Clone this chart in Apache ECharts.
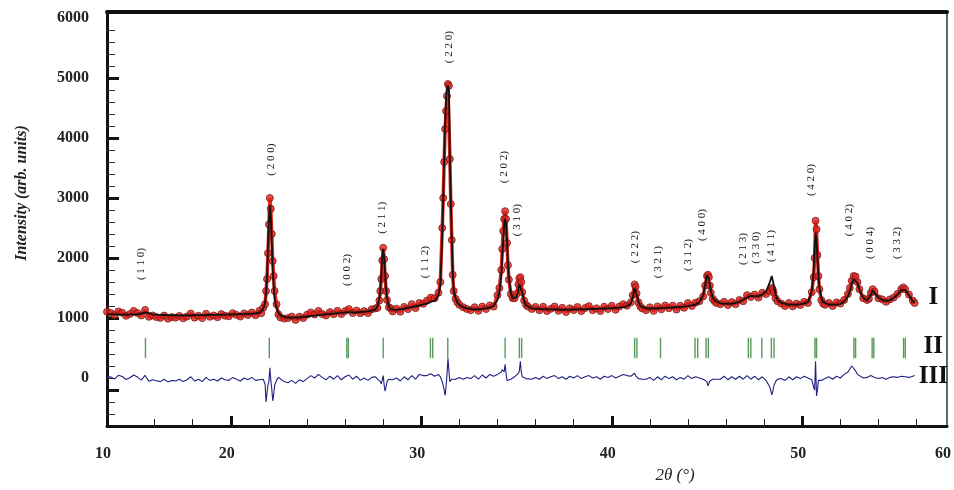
<!DOCTYPE html>
<html>
<head>
<meta charset="utf-8">
<title>XRD refinement</title>
<script src="https://cdn.jsdelivr.net/npm/echarts@6/dist/echarts.min.js"></script>
<style>
    html, body { margin: 0; padding: 0; background: #fff; }
    #chartXrd { width: 954px; height: 490px; }
</style>
</head>
<body>
<div id="chartXrd"></div>
<script>
    // 2theta grid, coarse on background, finer on the peaks
    var twoTheta = [
        13.5,13.7,13.9,14.1,14.3,14.5,14.7,14.9,15.1,15.3, 15.5,15.7,15.9,16.1,16.3,16.5,16.7,16.9,17.1,17.3,
        17.5,17.7,17.9,18.1,18.3,18.5,18.7,18.9,19.1,19.3, 19.5,19.7,19.9,20.1,20.3,20.5,20.7,20.9,21.1,21.3,
        21.5,21.6,21.7,21.8,21.85,21.9,21.95,22.0,22.05,22.1, 22.15,22.2,22.25,22.3,22.4,22.5,22.6,
        22.8,23.0,23.2,23.4,23.6,23.8,24.0,24.2,24.4,24.6, 24.8,25.0,25.2,25.4,25.6,25.8,26.0,26.2,26.4,26.6, 26.8,27.0,27.2,27.4,
        27.6,27.7,27.8,27.85,27.9,27.95,28.0,28.05,28.1,28.15, 28.2,28.3,28.4,28.5,
        28.7,28.9,29.1,29.3,29.5,29.7,29.9,30.1,
        30.3,30.5,30.7,30.9,31.0,31.1,31.15,31.2,31.25,31.3, 31.35,31.4,31.45,31.5,31.55,31.6,31.65,31.7,31.8,31.9, 32.0,32.2,32.4,
        32.6,32.8,33.0,33.2,33.4,33.6,33.8,
        34.0,34.1,34.2,34.25,34.3,34.35,34.4,34.45,34.5,34.55, 34.6,34.7,34.8,34.9,35.0,35.1,35.15,35.2,35.25,35.3, 35.4,35.5,35.6,35.8,
        36.0,36.2,36.4,36.6,36.8,37.0,37.2,37.4,37.6,37.8, 38.0,38.2,38.4,38.6,38.8,39.0,39.2,39.4,39.6,39.8, 40.0,40.2,40.4,40.6,40.8,
        41.0,41.1,41.2,41.25,41.3,41.4,41.5,41.6,
        41.8,42.0,42.2,42.4,42.6,42.8,43.0,43.2,43.4,43.6, 43.8,44.0,44.2,44.4,44.6,
        44.8,44.9,45.0,45.05,45.1,45.15,45.2,45.3,45.4,45.5,
        45.7,45.9,46.1,46.3,46.5,46.7,46.9,47.1,47.3,47.5, 47.7,47.9,48.1,
        48.3,48.4,48.45,48.5,48.6,48.7,
        48.9,49.1,49.3,49.5,49.7,49.9,50.1,50.3,
        50.5,50.6,50.65,50.7,50.75,50.8,50.85,50.9,51.0,51.1,51.2,
        51.4,51.6,51.8,52.0,52.2,52.4,52.5,52.6,52.7,52.8, 52.9,53.0,53.2,53.4,53.5,53.6,53.7,53.8,54.0,54.2,
        54.4,54.6,54.8,55.0,55.2,55.3,55.4,55.6,55.8,55.9
    ];
    // I : observed points
    var observed = [
        1105,1082,1050,1108,1087,1036,1066,1118,1082,1042, 1135,1020,1042,1015,1002,1040,988,1016,1005,1035,
        994,1024,1075,1006,1037,998,1070,1021,1042,1014, 1065,1037,1028,1080,1052,1024,1076,1049,1092,1046,
        1120,1080,1170,1230,1450,1650,2080,2560,3000,2820, 2400,1950,1700,1450,1230,1060,1010,
        990,998,1025,968,1022,998,1055,1092,1060,1118, 1065,1042,1098,1064,1120,1066,1115,1148,1082,1125, 1080,1115,1082,1145,
        1160,1170,1290,1450,1650,1960,2170,1980,1700,1450, 1300,1180,1160,1110,
        1155,1105,1185,1148,1230,1165,1250,1238,
        1290,1340,1330,1420,1600,2500,3000,3600,4150,4450, 4700,4900,4870,3650,2900,2300,1720,1450,1320,1260, 1220,1180,1150,
        1130,1180,1120,1190,1150,1210,1190,
        1380,1500,1800,2150,2450,2650,2780,2650,2250,1880, 1640,1400,1330,1330,1400,1560,1660,1680,1600,1430, 1290,1220,1190,1150,
        1185,1130,1188,1115,1153,1192,1120,1170,1100,1161, 1132,1183,1115,1166,1198,1130,1162,1115,1188,1150, 1203,1137,1192,1230,1205,
        1260,1380,1560,1520,1410,1260,1190,1160,
        1130,1178,1120,1192,1145,1208,1162,1205,1140,1205, 1170,1248,1200,1255,1280,
        1360,1540,1700,1720,1680,1540,1420,1320,1280,1250,
        1230,1270,1215,1265,1230,1300,1280,1380,1350,1390, 1340,1420,1400,
        1450,1500,1480,1420,1330,1280,
        1240,1200,1250,1195,1240,1215,1270,1250,
        1430,1680,2000,2620,2480,2050,1700,1480,1300,1240,1220,
        1250,1200,1260,1240,1300,1400,1500,1620,1700,1690, 1600,1480,1330,1300,1320,1420,1480,1440,1330,1310,
        1270,1310,1340,1400,1480,1510,1480,1390,1290,1250
    ];
    // I : calculated profile
    var calculated = [
        1065,1062,1060,1058,1057,1056,1056,1058,1062,1072, 1095,1080,1062,1055,1052,1050,1048,1046,1045,1045,
        1044,1044,1045,1046,1047,1048,1050,1051,1052,1054, 1055,1057,1058,1060,1062,1064,1066,1069,1072,1076,
        1085,1110,1150,1260,1420,1700,2150,2620,2880,2700, 2250,1820,1510,1310,1160,1090,1045,
        1020,1008,1005,1008,1012,1018,1025,1032,1040,1048, 1055,1062,1068,1074,1080,1086,1095,1098,1092,1095, 1100,1105,1112,1125,
        1140,1190,1330,1480,1720,2000,2150,2020,1760,1510, 1340,1190,1145,1130,
        1135,1145,1155,1168,1180,1195,1210,1228,
        1240,1270,1290,1370,1540,2380,2950,3600,4250,4650, 4830,4870,4800,3700,2950,2330,1760,1470,1330,1260, 1215,1180,1160,
        1150,1145,1145,1150,1160,1175,1200,
        1300,1430,1720,2000,2300,2540,2650,2580,2280,1930, 1680,1420,1320,1310,1350,1470,1560,1590,1530,1420, 1280,1210,1180,1160,
        1155,1150,1148,1145,1143,1142,1140,1140,1140,1141, 1142,1143,1145,1146,1148,1150,1152,1155,1158,1160, 1163,1167,1172,1180,1195,
        1240,1340,1500,1480,1400,1270,1200,1175,
        1160,1158,1160,1162,1165,1168,1172,1175,1180,1185, 1190,1198,1210,1225,1260,
        1380,1560,1710,1730,1660,1560,1460,1340,1290,1265,
        1245,1238,1236,1240,1250,1270,1300,1340,1370,1365, 1360,1390,1440,
        1600,1700,1680,1560,1400,1300,
        1255,1235,1225,1222,1225,1232,1245,1265,
        1450,1800,2150,2420,2300,2000,1720,1520,1340,1265,1235,
        1225,1222,1225,1232,1270,1360,1440,1560,1650,1660, 1580,1470,1340,1290,1300,1380,1460,1430,1340,1300,
        1285,1295,1330,1390,1460,1490,1470,1380,1280,1255
    ];
    // III : difference curve
    var difference = [
        30,15,-15,45,25,-25,5,50,15,-35, 45,-55,-30,-45,-60,-20,-65,-40,-50,-20,
        -60,-30,20,-50,-20,-60,10,-40,-20,-50, 0,-30,-40,10,-20,-50,0,-30,10,-40,
        -30,-50,-20,-100,-400,-250,-120,-60,170,-40, -180,-380,-280,-120,-40,10,-20,
        -60,-80,-40,-90,-30,-60,-10,40,0,60, 10,-30,30,-20,40,-30,20,50,-20,30, -40,0,-40,10,
        20,-20,-40,-60,-100,-80,40,-120,-220,-150, -60,-20,10,-30,
        0,-50,20,-30,40,-20,60,40,
        40,70,30,60,20,-60,-120,-200,-290,-150, 60,330,120,-60,-30,-20,-50,-30,-20,0, 10,-20,10,
        -10,40,-20,50,0,60,30,
        60,80,100,140,120,100,230,80,-40,-60, -40,-20,0,20,40,80,120,280,100,20, 0,-10,-30,-20,
        10,-20,30,-10,20,40,-10,20,-20,30, 0,40,-10,20,40,0,20,-20,30,10, 40,0,30,60,40,
        30,50,80,40,10,-10,-10,-20,
        -20,10,-40,20,-30,30,-10,20,-30,10, -20,40,-10,20,0,
        -20,-40,-60,-130,-90,-50,-30,-20,-10,-20,
        -20,30,-30,20,-20,30,-20,40,-20,30, -30,20,-40,
        -150,-280,-230,-140,-60,-20,
        -10,-40,20,-30,20,-10,30,0,
        -30,-150,-200,280,-300,-200,-40,-20,-40,-20,-10,
        20,-20,30,0,60,100,150,200,180,120, 60,40,0,10,20,40,20,10,-10,10,
        -20,10,20,10,30,50,20,10,30,40
    ];
    // II : Bragg reflection positions
    var braggPositions = [15.52, 22.02, 26.09, 26.17, 28.00, 30.48, 30.60, 31.39, 34.40, 35.15, 35.27,
        41.20, 41.32, 42.56, 44.37, 44.51, 44.95, 45.07, 47.17, 47.30, 47.88, 48.38, 48.52,
        50.67, 50.75, 52.71, 52.80, 53.67, 53.76, 55.32, 55.41];
    var braggLow = 330, braggHigh = 670;

    // Miller indices and where they sit (2theta, intensity)
    var hklNames = ['( 1 1 0)', '( 2 0 0)', '( 0 0 2)', '( 2 1 1)', '( 1 1 2)', '( 2 2 0)', '( 2 0 2)', '( 3 1 0)',
        '( 2 2 2)', '( 3 2 1)', '( 3 1 2)', '( 4 0 0)', '( 2 1 3)', '( 3 3 0)', '( 4 1 1)', '( 4 2 0)',
        '( 4 0 2)', '( 0 0 4)', '( 3 3 2)'];
    var hklAt = [[15.3, 1900], [22.09, 3640], [26.10, 1800], [27.92, 2670], [30.22, 1930], [31.44, 5515],
        [34.35, 3515], [35.05, 2630], [41.23, 2180], [42.42, 1930], [43.99, 2050], [44.72, 2550],
        [46.87, 2150], [47.56, 2170], [48.38, 2200], [50.48, 3300], [52.45, 2630], [53.58, 2250], [54.97, 2250]];

    var partNames = ['I', 'II', 'III'];
    var partAt = [[56.88, 1340], [56.88, 520], [56.88, 25]];

    var yLabels = [0, 1000, 2000, 3000, 4000, 5000, 6000];
    var yMajor = [-200, 1000, 2000, 3000, 4000, 5000];
    var yMinor = [-600, -400, 0, 200, 400, 600, 800, 1200, 1400, 1600, 1800, 2200, 2400, 2600, 2800,
        3200, 3400, 3600, 3800, 4200, 4400, 4600, 4800, 5200, 5400, 5600, 5800];
    var xMin = 13.5, xMax = 57.6;
    var xLabels = [xMin, 20, 30, 40, 50, xMax];
    var xMajor = [20, 30, 40, 50];
    var xMinor = [16, 18, 22, 24, 26, 28, 32, 34, 36, 38, 42, 44, 46, 48, 52, 54, 56];

    var serif = '"Liberation Serif"';
    var obsData = twoTheta.map(function (t, i) { return [t, observed[i]]; });
    var calcData = twoTheta.map(function (t, i) { return [t, calculated[i]]; });
    var diffData = twoTheta.map(function (t, i) { return [t, difference[i]]; });

    // plain text placed through the axes (used for hkl and I/II/III)
    function textSeries(names, at, font, rot) {
        return {
            type: 'custom', z: 5,
            data: at.map(function (p, i) { return { name: names[i], value: p }; }),
            renderItem: function (params, api) {
                var c = api.coord([api.value(0), api.value(1)]);
                return {
                    type: 'text', x: c[0], y: c[1], rotation: rot,
                    style: {
                        text: names[params.dataIndex], font: font, fill: '#111',
                        textAlign: 'center', textVerticalAlign: 'middle'
                    }
                };
            }
        };
    }

    var chartXrd = echarts.init(document.getElementById('chartXrd'));
    chartXrd.setOption({
        animation: false,
        backgroundColor: '#fff',
        grid: { left: 107, right: 4, top: 12, bottom: 64, containLabel: false },
        xAxis: [
            {
                type: 'value', min: xMin, max: xMax, position: 'bottom',
                axisLine: { onZero: false, lineStyle: { color: '#111', width: 3 } },
                axisTick: { inside: true, length: 7, lineStyle: { color: '#222', width: 1 }, customValues: xMinor },
                axisLabel: {
                    customValues: xLabels, margin: 20, padding: [0, 8, 0, 0],
                    fontFamily: serif, fontWeight: 'bold', fontSize: 16, color: '#222',
                    formatter: function (v) {
                        if (v < 15) return '10';
                        if (v > 56) return '60';
                        return String(v);
                    }
                },
                splitLine: { show: false }
            },
            {
                type: 'value', min: xMin, max: xMax, position: 'bottom',
                axisLine: { show: false, onZero: false },
                axisTick: { inside: true, length: 10, lineStyle: { color: '#111', width: 3 }, customValues: xMajor },
                axisLabel: { show: false },
                splitLine: { show: false }
            },
            {
                type: 'value', min: xMin, max: xMax, position: 'top',
                axisLine: { onZero: false, lineStyle: { color: '#111', width: 4 } },
                axisTick: { show: false }, axisLabel: { show: false }, splitLine: { show: false }
            }
        ],
        yAxis: [
            {
                type: 'value', min: -800, max: 6100, position: 'left',
                axisLine: { onZero: false, lineStyle: { color: '#111', width: 3 } },
                axisTick: { inside: true, length: 8, lineStyle: { color: '#333', width: 1 }, customValues: yMinor },
                axisLabel: {
                    customValues: yLabels, margin: 18,
                    fontFamily: serif, fontWeight: 'bold', fontSize: 16, color: '#222',
                    formatter: function (v) { return String(v); }
                },
                splitLine: { show: false }
            },
            {
                type: 'value', min: -800, max: 6100, position: 'left',
                axisLine: { show: false, onZero: false },
                axisTick: { inside: true, length: 12, lineStyle: { color: '#111', width: 3 }, customValues: yMajor },
                axisLabel: { show: false },
                splitLine: { show: false }
            },
            {
                type: 'value', min: -800, max: 6100, position: 'right',
                axisLine: { onZero: false, lineStyle: { color: '#333', width: 1.5 } },
                axisTick: { show: false }, axisLabel: { show: false }, splitLine: { show: false }
            }
        ],
        graphic: [
            {
                type: 'text', x: 22, y: 193, rotation: Math.PI / 2,
                style: {
                    text: 'Intensity (arb. units)', fill: '#222',
                    font: 'italic bold 16px "Liberation Serif"',
                    textAlign: 'center', textVerticalAlign: 'middle'
                }
            },
            {
                type: 'text', x: 675, y: 476,
                style: {
                    text: '2θ (°)', fill: '#222',
                    font: 'italic 17px "Liberation Serif"',
                    textAlign: 'center', textVerticalAlign: 'middle'
                }
            }
        ],
        series: [
            {
                name: 'observed band', type: 'line', data: obsData,
                showSymbol: false, lineStyle: { color: '#e8251b', width: 3.5 },
                z: 1
            },
            {
                name: 'observed', type: 'scatter', data: obsData,
                symbol: 'circle', symbolSize: 7,
                itemStyle: { color: '#e0261d', borderColor: '#801818', borderWidth: 1 },
                z: 2
            },
            {
                name: 'calculated', type: 'line', data: calcData,
                showSymbol: false, lineStyle: { color: '#111', width: 1.8 },
                z: 3
            },
            {
                name: 'bragg', type: 'custom',
                data: braggPositions.map(function (p) { return [p, braggLow]; }),
                renderItem: function (params, api) {
                    var a = api.coord([api.value(0), braggLow]);
                    var b = api.coord([api.value(0), braggHigh]);
                    return {
                        type: 'line',
                        shape: { x1: a[0], y1: a[1], x2: b[0], y2: b[1] },
                        style: { stroke: '#5b985b', lineWidth: 1.4 }
                    };
                },
                z: 3
            },
            {
                name: 'difference', type: 'line', data: diffData,
                showSymbol: false, lineStyle: { color: '#1f2080', width: 1.1 },
                z: 3
            },
            textSeries(hklNames, hklAt, '11px "Liberation Serif"', Math.PI / 2),
            textSeries(partNames, partAt, 'bold 25px "Liberation Serif"', 0)
        ]
    });
</script>
</body>
</html>
